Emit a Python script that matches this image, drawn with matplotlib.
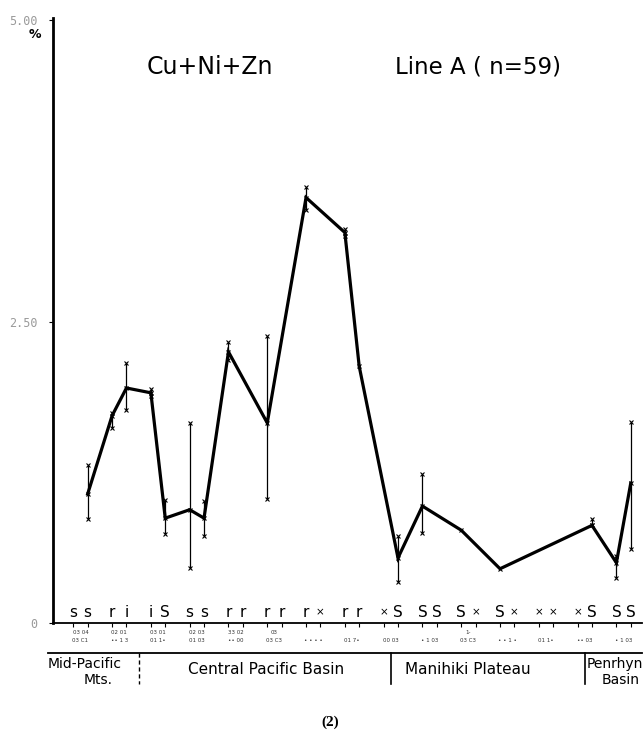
import matplotlib
matplotlib.use("Agg")
import matplotlib.pyplot as plt
import matplotlib.transforms as mtransforms
import numpy as np

# ---------------- data ----------------
# sampling sites: pair index + offset (second site of each pair slightly to the right)
site_pos = [p + o for p in range(15) for o in (0.0, 0.37)]
site_letters = ["s", "s", "r", "i", "i", "S", "s", "s", "r", "r",
                "r", "r", "r", "\u00d7", "r", "r", "\u00d7", "S", "S", "S",
                "S", "\u00d7", "S", "\u00d7", "\u00d7", "\u00d7", "\u00d7", "S", "S", "S"]

# station code rows under each pair (tiny, mostly illegible in the original)
code_row1 = ["03 04", "02 01", "03 01", "02 03", "33 02", "03", "", "", "", "",
             "1-", "", "", "", ""]
code_row2 = ["03 C1", "\u2022\u2022 1 3", "01 1\u2022", "01 03", "\u2022\u2022 00",
             "03 C3", "\u2022 \u2022 \u2022 \u2022", "01 7\u2022", "00 03",
             "\u2022 1 03", "03 C3", "\u2022 \u2022 1 \u2022", "01 1\u2022",
             "\u2022\u2022 03", "\u2022 1 03"]

# line (mean values, %), site index (0-based) of each point
pt_site = [1, 2, 3, 4, 5, 6, 7, 8, 10, 12, 14, 15, 17, 18, 20, 22, 27, 28, 29]
pt_val = [1.07, 1.72, 1.95, 1.91, 0.87, 0.94, 0.87, 2.25, 1.66, 3.53,
          3.24, 2.13, 0.54, 0.97, 0.77, 0.45, 0.81, 0.50, 1.16]
err_hi = [1.31, 1.74, 2.16, 1.94, 1.02, 1.66, 1.01, 2.33, 2.38, 3.62,
          3.27, np.nan, 0.72, 1.24, np.nan, np.nan, 0.86, 0.56, 1.67]
err_lo = [0.86, 1.62, 1.77, 1.88, 0.74, 0.46, 0.72, 2.18, 1.03, 3.43,
          3.21, np.nan, 0.34, 0.75, np.nan, np.nan, 0.81, 0.37, 0.61]

region_bounds = [(3, 4), (16, 17), (26, 27)]  # boundaries between these sites (0-based)
region_div_style = ["--", "-", "-"]

yticks = [0, 2.5, 5.0]
yticklabels = ["0", "2.50", "5.00"]

title_left = "Cu+Ni+Zn"
title_right = "Line A ( n=59)"
fig_label = "(2)"

# ---------------- figure ----------------
W, H = 644, 733
fig = plt.figure(figsize=(W / 100, H / 100), dpi=100)
ax = fig.add_axes([53 / W, 110 / H, (642 - 53) / W, (623 - 18) / H])
ax.set_xlim(-0.523, 14.66)
ax.set_ylim(0, 5.02)

for s in ("top", "right"):
    ax.spines[s].set_visible(False)
ax.spines["left"].set_linewidth(2.0)
ax.spines["bottom"].set_linewidth(1.3)

ax.set_yticks(yticks)
ax.set_yticklabels(yticklabels, color="#9a9a9a", fontsize=8.5, family="DejaVu Sans Mono")
ax.tick_params(axis="y", length=3, width=0.8, pad=8)
ax.set_xticks(site_pos)
ax.set_xticklabels([])
ax.tick_params(axis="x", direction="out", length=3, width=0.8)

xs = np.array([site_pos[i] for i in pt_site])
vals = np.array(pt_val)
hi = np.array(err_hi)
lo = np.array(err_lo)

# error bars
for x, h, l in zip(xs, hi, lo):
    if np.isnan(h):
        continue
    ax.plot([x, x], [l, h], color="black", lw=0.9, solid_capstyle="butt")
    ax.plot([x, x], [l, h], ls="none", marker="x", ms=3, mew=0.8, color="black")

# main line
ax.plot(xs, vals, color="black", lw=2.3, solid_joinstyle="miter")
ax.plot(xs, vals, ls="none", marker="x", ms=3, mew=0.8, color="black")

# site letters
for x, t in zip(site_pos, site_letters):
    fs = 7.5 if t == "\u00d7" else 11
    ax.text(x, 0.085, t, ha="center", va="center", fontsize=fs, family="DejaVu Sans")

# station codes
blend = mtransforms.blended_transform_factory(ax.transData, fig.transFigure)
for p, (c1, c2) in enumerate(zip(code_row1, code_row2)):
    xc = p + 0.185
    if c1:
        ax.text(xc, 1 - 633 / H, c1, transform=blend, ha="center", va="center",
                fontsize=4, color="#333333", clip_on=False)
    ax.text(xc, 1 - 640 / H, c2, transform=blend, ha="center", va="center",
            fontsize=4, color="#333333", clip_on=False)

# lower rule
fig.add_artist(plt.Line2D([48 / W, 642 / W], [1 - 653 / H, 1 - 653 / H],
                          color="black", lw=1.3))

# region dividers
for (a, b), ls in zip(region_bounds, region_div_style):
    xd = (site_pos[a] + site_pos[b]) / 2
    if ls == "--":
        ax.plot([xd, xd], [1 - 653 / H, 1 - 684 / H], transform=blend, color="black",
                lw=1.0, ls=(0, (3, 2)), clip_on=False)
    else:
        ax.plot([xd, xd], [1 - 653 / H, 1 - 684 / H], transform=blend, color="black",
                lw=1.2, clip_on=False)

# region labels
lab_kw = dict(fontsize=10, family="DejaVu Sans", color="black")
fig.text(48 / W, 1 - 664 / H, "Mid-Pacific", ha="left", va="center", **lab_kw)
fig.text(113 / W, 1 - 680 / H, "Mts.", ha="right", va="center", **lab_kw)
fig.text(266 / W, 1 - 669 / H, "Central Pacific Basin", ha="center", va="center",
         fontsize=11, family="DejaVu Sans")
fig.text(468 / W, 1 - 670 / H, "Manihiki Plateau", ha="center", va="center",
         fontsize=11, family="DejaVu Sans")
fig.text(587 / W, 1 - 664 / H, "Penrhyn", ha="left", va="center", **lab_kw)
fig.text(640 / W, 1 - 680 / H, "Basin", ha="right", va="center", **lab_kw)

# titles
fig.text(147 / W, 1 - 67 / H, title_left, ha="left", va="center", fontsize=17,
         family="DejaVu Sans")
fig.text(395 / W, 1 - 67 / H, title_right, ha="left", va="center", fontsize=16.5,
         family="DejaVu Sans")
fig.text(35 / W, 1 - 35 / H, "%", ha="center", va="center", fontsize=9,
         fontweight="bold", family="DejaVu Sans")

fig.text(330 / W, 1 - 722 / H, fig_label, ha="center", va="center", fontsize=11,
         fontweight="bold", family="Liberation Serif")

fig.savefig("out.png", dpi=100)
